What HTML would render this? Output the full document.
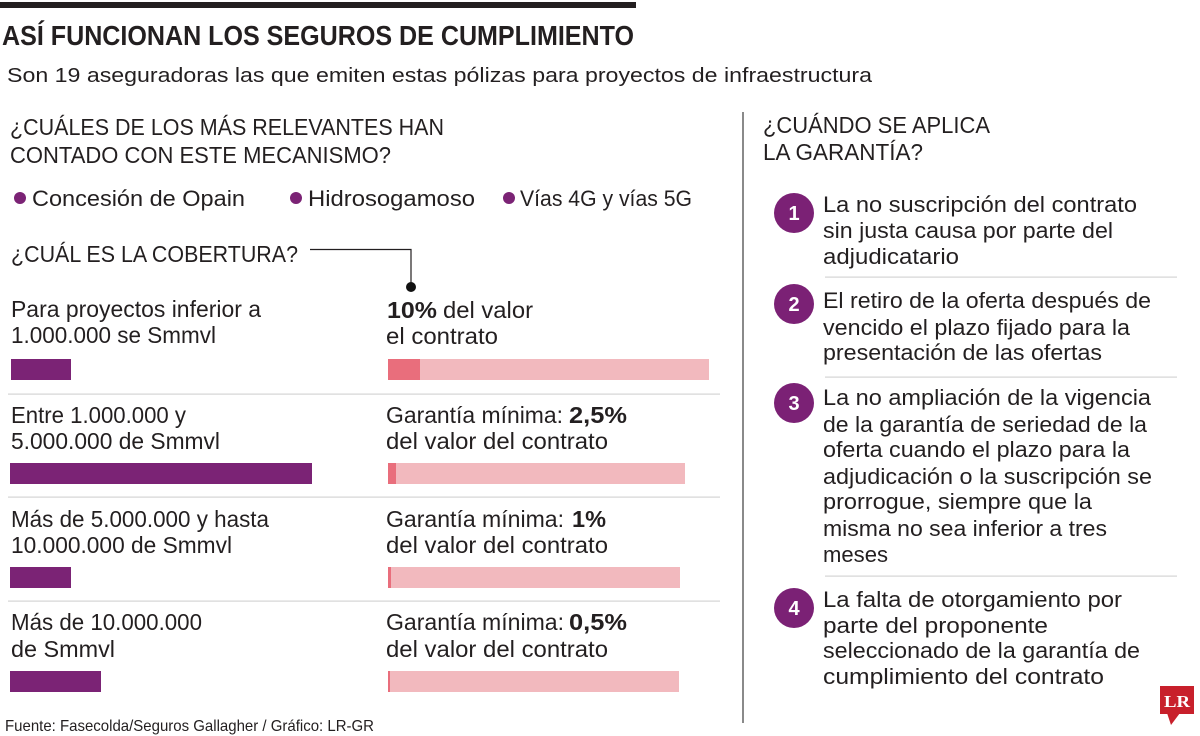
<!DOCTYPE html>
<html><head><meta charset="utf-8"><style>
html,body{margin:0;padding:0;background:#fff;}
svg{display:block;}
text{font-family:"Liberation Sans",sans-serif;fill:#231f20;}
</style></head><body>
<svg width="1200" height="736" viewBox="0 0 1200 736" xmlns="http://www.w3.org/2000/svg">
<rect x="0" y="0" width="1200" height="736" fill="#fff"/>
<rect x="0" y="2" width="636" height="6" fill="#231f20"/>
<text x="2" y="45" font-size="28" font-weight="bold" textLength="632" lengthAdjust="spacingAndGlyphs">ASÍ FUNCIONAN LOS SEGUROS DE CUMPLIMIENTO</text>
<text x="7" y="82" font-size="20" textLength="865" lengthAdjust="spacingAndGlyphs">Son 19 aseguradoras las que emiten estas pólizas para proyectos de infraestructura</text>

<text x="10" y="135" font-size="23" textLength="434" lengthAdjust="spacingAndGlyphs">¿CUÁLES DE LOS MÁS RELEVANTES HAN</text>
<text x="10" y="163" font-size="23" textLength="381" lengthAdjust="spacingAndGlyphs">CONTADO CON ESTE MECANISMO?</text>

<circle cx="20" cy="198" r="6" fill="#7b2375"/>
<text x="32" y="206" font-size="22" textLength="213" lengthAdjust="spacingAndGlyphs">Concesión de Opain</text>
<circle cx="296" cy="198" r="6" fill="#7b2375"/>
<text x="308" y="206" font-size="22" textLength="167" lengthAdjust="spacingAndGlyphs">Hidrosogamoso</text>
<circle cx="509" cy="198" r="6" fill="#7b2375"/>
<text x="520" y="206" font-size="22" textLength="172" lengthAdjust="spacingAndGlyphs">Vías 4G y vías 5G</text>

<text x="11" y="262" font-size="23" textLength="287" lengthAdjust="spacingAndGlyphs">¿CUÁL ES LA COBERTURA?</text>
<polyline points="310,249.5 411,249.5 411,287" fill="none" stroke="#231f20" stroke-width="1.2"/>
<circle cx="411" cy="287" r="5" fill="#111"/>

<!-- Row 1 -->
<text x="11" y="317" font-size="23" textLength="250" lengthAdjust="spacingAndGlyphs">Para proyectos inferior a</text>
<text x="11" y="343" font-size="23" textLength="205" lengthAdjust="spacingAndGlyphs">1.000.000 se Smmvl</text>
<text x="387" y="318" font-size="23" font-weight="bold" textLength="50" lengthAdjust="spacingAndGlyphs">10%</text>
<text x="443" y="318" font-size="23" textLength="90" lengthAdjust="spacingAndGlyphs">del valor</text>
<text x="386" y="344" font-size="23" textLength="112" lengthAdjust="spacingAndGlyphs">el contrato</text>
<rect x="11" y="359" width="60" height="21" fill="#7b2375"/>
<rect x="388" y="359" width="321" height="21" fill="#f2b9be"/>
<rect x="388" y="359" width="32" height="21" fill="#e96e7c"/>
<rect x="8" y="393.5" width="712" height="1.2" fill="#d4d4d4"/>

<!-- Row 2 -->
<text x="11" y="423" font-size="23" textLength="175" lengthAdjust="spacingAndGlyphs">Entre 1.000.000 y</text>
<text x="11" y="449" font-size="23" textLength="209" lengthAdjust="spacingAndGlyphs">5.000.000 de Smmvl</text>
<text x="386" y="423" font-size="23" textLength="177" lengthAdjust="spacingAndGlyphs">Garantía mínima:</text>
<text x="569" y="423" font-size="23" font-weight="bold" textLength="58" lengthAdjust="spacingAndGlyphs">2,5%</text>
<text x="386" y="449" font-size="23" textLength="222" lengthAdjust="spacingAndGlyphs">del valor del contrato</text>
<rect x="10" y="463" width="302" height="21" fill="#7b2375"/>
<rect x="388" y="463" width="297" height="21" fill="#f2b9be"/>
<rect x="388" y="463" width="8" height="21" fill="#e96e7c"/>
<rect x="8" y="496.5" width="712" height="1.2" fill="#d4d4d4"/>

<!-- Row 3 -->
<text x="11" y="527" font-size="23" textLength="258" lengthAdjust="spacingAndGlyphs">Más de 5.000.000 y hasta</text>
<text x="11" y="553" font-size="23" textLength="221" lengthAdjust="spacingAndGlyphs">10.000.000 de Smmvl</text>
<text x="386" y="527" font-size="23" textLength="178" lengthAdjust="spacingAndGlyphs">Garantía mínima:</text>
<text x="572" y="527" font-size="23" font-weight="bold" textLength="34" lengthAdjust="spacingAndGlyphs">1%</text>
<text x="386" y="553" font-size="23" textLength="222" lengthAdjust="spacingAndGlyphs">del valor del contrato</text>
<rect x="10" y="567" width="61" height="21" fill="#7b2375"/>
<rect x="388" y="567" width="292" height="21" fill="#f2b9be"/>
<rect x="388" y="567" width="3" height="21" fill="#e96e7c"/>
<rect x="8" y="600.5" width="712" height="1.2" fill="#d4d4d4"/>

<!-- Row 4 -->
<text x="11" y="630" font-size="23" textLength="191" lengthAdjust="spacingAndGlyphs">Más de 10.000.000</text>
<text x="11" y="657" font-size="23" textLength="104" lengthAdjust="spacingAndGlyphs">de Smmvl</text>
<text x="386" y="630" font-size="23" textLength="178" lengthAdjust="spacingAndGlyphs">Garantía mínima:</text>
<text x="569" y="630" font-size="23" font-weight="bold" textLength="58" lengthAdjust="spacingAndGlyphs">0,5%</text>
<text x="386" y="657" font-size="23" textLength="222" lengthAdjust="spacingAndGlyphs">del valor del contrato</text>
<rect x="10" y="671" width="91" height="21" fill="#7b2375"/>
<rect x="388" y="671" width="291" height="21" fill="#f2b9be"/>
<rect x="388" y="671" width="2" height="21" fill="#e96e7c"/>

<text x="5" y="731" font-size="16" textLength="369" lengthAdjust="spacingAndGlyphs">Fuente: Fasecolda/Seguros Gallagher / Gráfico: LR-GR</text>

<!-- Right column -->
<rect x="742" y="112" width="2" height="611" fill="#8a8a8a"/>
<text x="763" y="133" font-size="23" textLength="227" lengthAdjust="spacingAndGlyphs">¿CUÁNDO SE APLICA</text>
<text x="763" y="160" font-size="23" textLength="160" lengthAdjust="spacingAndGlyphs">LA GARANTÍA?</text>

<circle cx="794" cy="213" r="20" fill="#7b2175"/>
<text x="794" y="220" font-size="20" font-weight="bold" text-anchor="middle" style="fill:#fff">1</text>
<text x="823" y="212" font-size="22" textLength="314" lengthAdjust="spacingAndGlyphs">La no suscripción del contrato</text>
<text x="823" y="238" font-size="22" textLength="290" lengthAdjust="spacingAndGlyphs">sin justa causa por parte del</text>
<text x="823" y="264" font-size="22" textLength="136" lengthAdjust="spacingAndGlyphs">adjudicatario</text>
<rect x="825" y="276.5" width="352" height="1.2" fill="#d4d4d4"/>

<circle cx="794" cy="304" r="20" fill="#7b2175"/>
<text x="794" y="311" font-size="20" font-weight="bold" text-anchor="middle" style="fill:#fff">2</text>
<text x="823" y="308" font-size="22" textLength="328" lengthAdjust="spacingAndGlyphs">El retiro de la oferta después de</text>
<text x="823" y="335" font-size="22" textLength="307" lengthAdjust="spacingAndGlyphs">vencido el plazo fijado para la</text>
<text x="823" y="360" font-size="22" textLength="279" lengthAdjust="spacingAndGlyphs">presentación de las ofertas</text>
<rect x="825" y="376.5" width="352" height="1.2" fill="#d4d4d4"/>

<circle cx="794" cy="403" r="20" fill="#7b2175"/>
<text x="794" y="410" font-size="20" font-weight="bold" text-anchor="middle" style="fill:#fff">3</text>
<text x="823" y="405" font-size="22" textLength="328" lengthAdjust="spacingAndGlyphs">La no ampliación de la vigencia</text>
<text x="823" y="432" font-size="22" textLength="324" lengthAdjust="spacingAndGlyphs">de la garantía de seriedad de la</text>
<text x="823" y="457" font-size="22" textLength="307" lengthAdjust="spacingAndGlyphs">oferta cuando el plazo para la</text>
<text x="823" y="484" font-size="22" textLength="329" lengthAdjust="spacingAndGlyphs">adjudicación o la suscripción se</text>
<text x="823" y="509" font-size="22" textLength="269" lengthAdjust="spacingAndGlyphs">prorrogue, siempre que la</text>
<text x="823" y="536" font-size="22" textLength="284" lengthAdjust="spacingAndGlyphs">misma no sea inferior a tres</text>
<text x="823" y="562" font-size="22" textLength="65" lengthAdjust="spacingAndGlyphs">meses</text>
<rect x="825" y="575.5" width="352" height="1.2" fill="#d4d4d4"/>

<circle cx="794" cy="608" r="20" fill="#7b2175"/>
<text x="794" y="615" font-size="20" font-weight="bold" text-anchor="middle" style="fill:#fff">4</text>
<text x="823" y="607" font-size="22" textLength="299" lengthAdjust="spacingAndGlyphs">La falta de otorgamiento por</text>
<text x="823" y="633" font-size="22" textLength="225" lengthAdjust="spacingAndGlyphs">parte del proponente</text>
<text x="823" y="658" font-size="22" textLength="317" lengthAdjust="spacingAndGlyphs">seleccionado de la garantía de</text>
<text x="823" y="684" font-size="22" textLength="281" lengthAdjust="spacingAndGlyphs">cumplimiento del contrato</text>

<!-- LR logo -->
<rect x="1160" y="686" width="34" height="28" fill="#c8202b"/>
<polygon points="1167,713 1180,713 1171,725" fill="#c8202b"/>
<text x="1177" y="707" font-size="17" font-weight="bold" text-anchor="middle" textLength="26" lengthAdjust="spacingAndGlyphs" style="fill:#fff;font-family:'Liberation Serif',serif">LR</text>
</svg>
</body></html>
